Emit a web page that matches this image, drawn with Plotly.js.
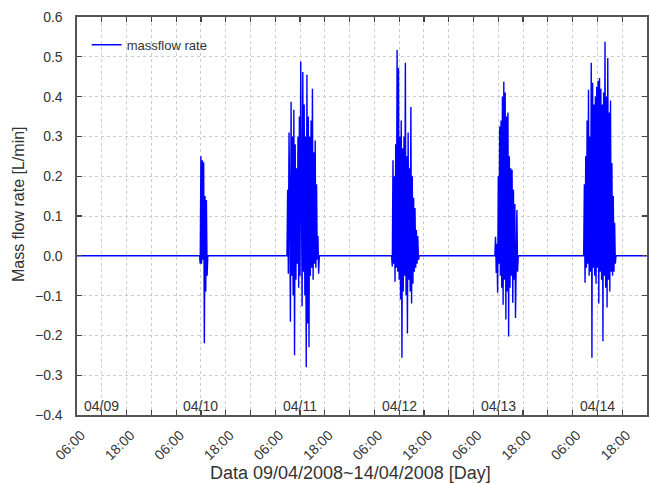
<!DOCTYPE html>
<html>
<head>
<meta charset="utf-8">
<script src="https://cdn.plot.ly/plotly-3.0.1.min.js"></script>
<style>html,body{margin:0;padding:0;background:#fff;}#chart{width:650px;height:484px;}</style>
</head>
<body>
<div id="chart"></div>
<script>
// ---- data ----
var baseStart = "2008-04-09 06:00";
var baseEnd = "2008-04-15 00:00";

var day10Date = "2008-04-10";
var day10Clock = ["11:40","11:50","12:00","12:10","12:20","12:30","12:40","12:50","13:00","13:10","13:20","13:30","13:40"];
var day10Flow  = [0.0,-0.02,0.25,-0.02,0.24,-0.01,0.235,-0.22,0.15,-0.09,0.14,-0.05,0.0];

var day11Date = "2008-04-11";
var day11Clock = ["08:50","09:00","09:10","09:20","09:30","09:40","09:50","10:00","10:10","10:20","10:30","10:40","10:50","11:00","11:10","11:20","11:30","11:40","11:50","12:00","12:10","12:20","12:30","12:40","12:50","13:00","13:10","13:20","13:30","13:40","13:50","14:00","14:10","14:20","14:30","14:40","14:50","15:00","15:10","15:20","15:30","15:40","15:50","16:00","16:10","16:20","16:30","16:40"];
var day11Flow  = [0.0,0.166,-0.045,0.31,0.12,-0.166,0.387,-0.05,0.30,-0.10,0.367,-0.25,0.28,-0.06,0.22,-0.02,0.30,-0.08,0.35,-0.05,0.488,0.20,-0.127,0.462,-0.04,0.38,-0.10,0.30,-0.28,0.455,-0.17,0.35,-0.23,0.30,-0.05,0.34,-0.03,0.42,-0.06,0.26,-0.02,0.29,-0.03,0.18,-0.01,0.05,-0.045,0.0];

var day12Date = "2008-04-12";
var day12Clock = ["10:10","10:20","10:30","10:40","10:50","11:00","11:10","11:20","11:30","11:40","11:50","12:00","12:10","12:20","12:30","12:40","12:50","13:00","13:10","13:20","13:30","13:40","13:50","14:00","14:10","14:20","14:30","14:40","14:50","15:00","15:10","15:20","15:30","15:40","15:50","16:00","16:10","16:20","16:30","16:40","16:50"];
var day12Flow  = [0.0,-0.027,0.24,-0.02,0.20,-0.065,0.28,-0.03,0.517,-0.04,0.472,-0.06,0.30,-0.11,0.34,-0.256,0.27,-0.09,0.30,-0.05,0.485,-0.10,0.25,-0.195,0.31,-0.06,0.22,-0.09,0.374,-0.12,0.20,-0.07,0.146,-0.04,0.12,-0.03,0.065,-0.02,0.05,-0.01,0.0];

var day13Date = "2008-04-13";
var day13Clock = ["11:10","11:20","11:30","11:40","11:50","12:00","12:10","12:20","12:30","12:40","12:50","13:00","13:10","13:20","13:30","13:40","13:50","14:00","14:10","14:20","14:30","14:40","14:50","15:00","15:10","15:20","15:30","15:40","15:50","16:00","16:10","16:20","16:30","16:40","16:50"];
var day13Flow  = [0.0,0.048,-0.043,0.03,-0.093,0.20,-0.02,0.325,-0.05,0.34,-0.08,0.40,-0.123,0.437,-0.06,0.41,-0.16,0.35,-0.09,0.36,-0.203,0.25,-0.08,0.22,-0.05,0.216,-0.118,0.166,-0.06,0.13,-0.156,0.08,0.115,-0.04,0.0];

var day14Date = "2008-04-14";
var day14Clock = ["08:40","08:50","09:00","09:10","09:20","09:30","09:40","09:50","10:00","10:10","10:20","10:30","10:40","10:50","11:00","11:10","11:20","11:30","11:40","11:50","12:00","12:10","12:20","12:30","12:40","12:50","13:00","13:10","13:20","13:30","13:40","13:50","14:00","14:10","14:20","14:30","14:40","14:50","15:00","15:10","15:20","15:30","15:40","15:50","16:00","16:10","16:20","16:30"];
var day14Flow  = [0.0,0.18,-0.068,0.25,-0.03,0.34,-0.02,0.417,-0.05,0.30,-0.04,0.485,-0.256,0.435,-0.03,0.38,-0.05,0.40,-0.07,0.425,-0.03,0.44,-0.12,0.447,-0.04,0.42,-0.06,0.38,-0.215,0.41,-0.05,0.538,-0.08,0.40,-0.13,0.497,-0.06,0.36,-0.09,0.39,-0.04,0.233,-0.05,0.15,-0.04,0.083,-0.02,0.0];

var tickTimes = ["2008-04-09 06:00","2008-04-09 12:00","2008-04-09 18:00","2008-04-10 00:00",
                 "2008-04-10 06:00","2008-04-10 12:00","2008-04-10 18:00","2008-04-11 00:00",
                 "2008-04-11 06:00","2008-04-11 12:00","2008-04-11 18:00","2008-04-12 00:00",
                 "2008-04-12 06:00","2008-04-12 12:00","2008-04-12 18:00","2008-04-13 00:00",
                 "2008-04-13 06:00","2008-04-13 12:00","2008-04-13 18:00","2008-04-14 00:00",
                 "2008-04-14 06:00","2008-04-14 12:00","2008-04-14 18:00","2008-04-15 00:00"];
var tickLabels = ["06:00","","18:00","","06:00","","18:00","","06:00","","18:00","",
                  "06:00","","18:00","","06:00","","18:00","","06:00","","18:00",""];

var dayLabels = ["04/09","04/10","04/11","04/12","04/13","04/14"];
var dayLabelTimes = ["2008-04-09 12:00","2008-04-10 12:00","2008-04-11 12:00","2008-04-12 12:00","2008-04-13 12:00","2008-04-14 12:00"];

var yTickVals = [-0.4,-0.3,-0.2,-0.1,0.0,0.1,0.2,0.3,0.4,0.5,0.6];

// ---- assemble series ----
var times = [baseStart], flow = [0.0];
[[day10Date,day10Clock,day10Flow],[day11Date,day11Clock,day11Flow],[day12Date,day12Clock,day12Flow],
 [day13Date,day13Clock,day13Flow],[day14Date,day14Clock,day14Flow]].forEach(function(b){
  for (var i=0;i<b[1].length;i++){ times.push(b[0]+" "+b[1][i]); flow.push(b[2][i]); }
});
times.push(baseEnd); flow.push(0.0);

var FONT = "Liberation Sans, Arial, sans-serif";
var TXT = "#333333";

var trace = {
  x: times, y: flow, type: "scatter", mode: "lines", name: "massflow rate",
  line: {color: "#0000ff", width: 1.4}
};

var annotations = dayLabels.map(function(t,i){
  return {x: dayLabelTimes[i], y: -0.4, xref: "x", yref: "y", text: t, showarrow: false,
          yanchor: "bottom", yshift: -1, font: {family: FONT, size: 14, color: TXT}};
});
annotations.push({x: 0.479, y: -0.146, xref: "paper", yref: "paper", xanchor: "center", yanchor: "middle",
  text: "Data 09/04/2008~14/04/2008 [Day]", showarrow: false, font: {family: FONT, size: 18, color: TXT}});
annotations.push({x: -0.1035, y: 0.53, xref: "paper", yref: "paper", xanchor: "center", yanchor: "middle",
  textangle: -90, text: "Mass flow rate [L/min]", showarrow: false, font: {family: FONT, size: 16, color: TXT}});

var layout = {
  width: 650, height: 484,
  margin: {l: 77, r: 3, t: 17, b: 69},
  paper_bgcolor: "#ffffff", plot_bgcolor: "#ffffff",
  showlegend: true,
  legend: {x: 0.017, y: 0.968, xanchor: "left", yanchor: "top", bgcolor: "rgba(255,255,255,0)",
           font: {family: FONT, size: 13, color: TXT}},
  xaxis: {
    type: "date", range: [baseStart, baseEnd],
    tickmode: "array", tickvals: tickTimes, ticktext: tickLabels,
    tickangle: -45, ticks: "inside", ticklen: 5, tickwidth: 1.2, tickcolor: "#444",
    showline: true, linecolor: "#555", linewidth: 1.6, mirror: "ticks",
    showgrid: true, gridcolor: "#cccccc", griddash: "dot", gridwidth: 1,
    zeroline: false, ticklabelstandoff: 5, ticklabelshift: 4,
    tickfont: {family: FONT, size: 14, color: TXT}
  },
  yaxis: {
    range: [-0.4, 0.6], tickmode: "array", tickvals: yTickVals, tickformat: ".1f",
    ticks: "inside", ticklen: 5, tickwidth: 1.2, tickcolor: "#444",
    showline: true, linecolor: "#555", linewidth: 1.6, mirror: "ticks",
    showgrid: true, gridcolor: "#cccccc", griddash: "dot", gridwidth: 1,
    zeroline: false, ticklabelstandoff: 10,
    tickfont: {family: FONT, size: 14, color: TXT}
  },
  annotations: annotations
};

Plotly.newPlot("chart", [trace], layout, {displayModeBar: false, staticPlot: true});
</script>
</body>
</html>
